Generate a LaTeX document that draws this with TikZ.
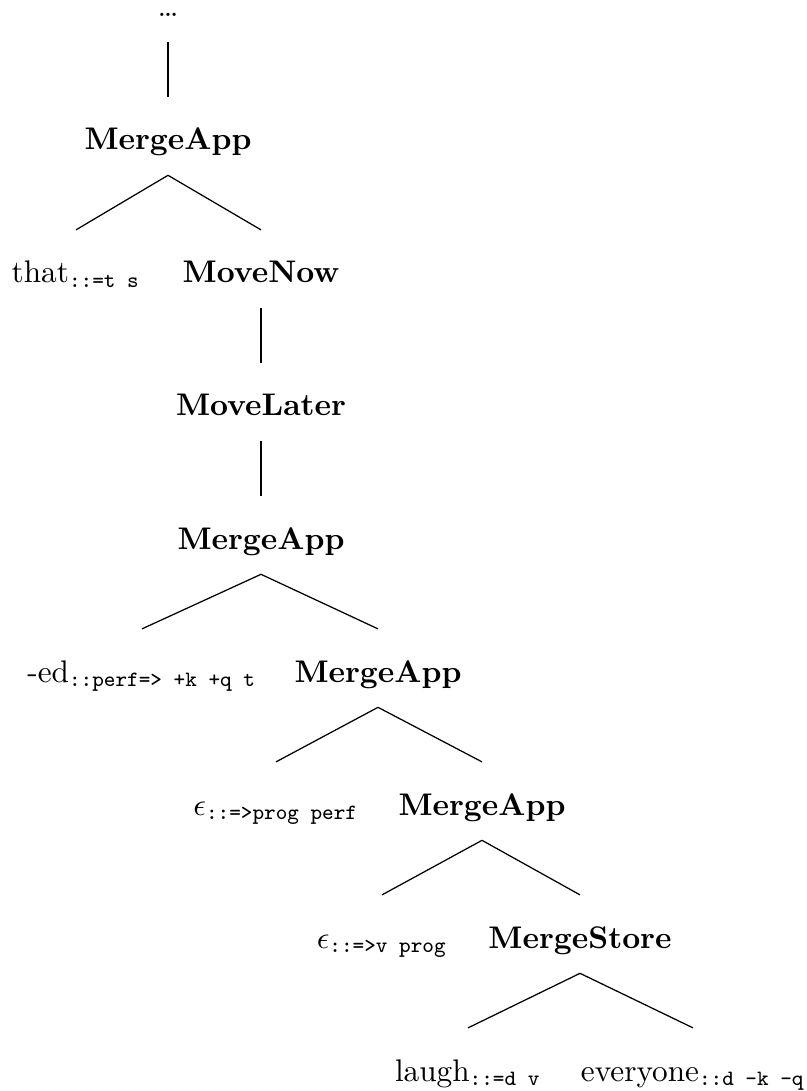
\documentclass[tikz,border=0pt]{standalone}
\usepackage{fontspec}
\usepackage{tikz}
\usepackage{amsmath}

\begin{document}
\begin{tikzpicture}[x=0.32pt,y=-0.32pt,thin,
    every node/.style={anchor=base,inner sep=0pt,text height=16.8pt,text depth=7.9pt}]
        \useasboundingbox (0,0) rectangle (806,1091);
        %\tikzstyle{every node}=[draw]

        \node[text height=2pt] (top) at (168,17) {\ldots};
        \node (m1)   at (168,150)  {\textbf{MergeApp}};
        \node (that) at (76,283)   {that$_{\texttt{::=t s}}$};
        \node (now)  at (261,283)  {\textbf{MoveNow}};
        \node (ltr)  at (261,416)  {\textbf{MoveLater}};
        \node (m2)   at (261,549)  {\textbf{MergeApp}};
        \node (ed)   at (142,682)  {-ed$_{\texttt{::perf=> +k +q t}}$};
        \node (m3)   at (378,682)  {\textbf{MergeApp}};
        \node (eps1) at (276,815)  {$\epsilon_{\texttt{::=>prog perf}}$};
        \node (m4)   at (482,815)  {\textbf{MergeApp}};
        \node (eps2) at (382,948)  {$\epsilon_{\texttt{::=>v prog}}$};
        \node (ms)   at (580,948)  {\textbf{MergeStore}};
        \node (lgh)  at (468,1081) {laugh$_{\texttt{::=d v}}$};
        \node (evr)  at (693,1081) {everyone$_{\texttt{::d -k -q}}$};

        \path (top.south) edge (m1.north)
        (m1.south) edge (that.north)
        edge (now.north)
        (now.south) edge (ltr.north)
        (ltr.south) edge (m2.north)
        (m2.south) edge (ed.north)
        edge (m3.north)
        (m3.south) edge (eps1.north)
        edge (m4.north)
        (m4.south) edge (eps2.north)
        edge (ms.north)
        (ms.south) edge (lgh.north)
        edge (evr.north);
    \end{tikzpicture}
\end{document}
